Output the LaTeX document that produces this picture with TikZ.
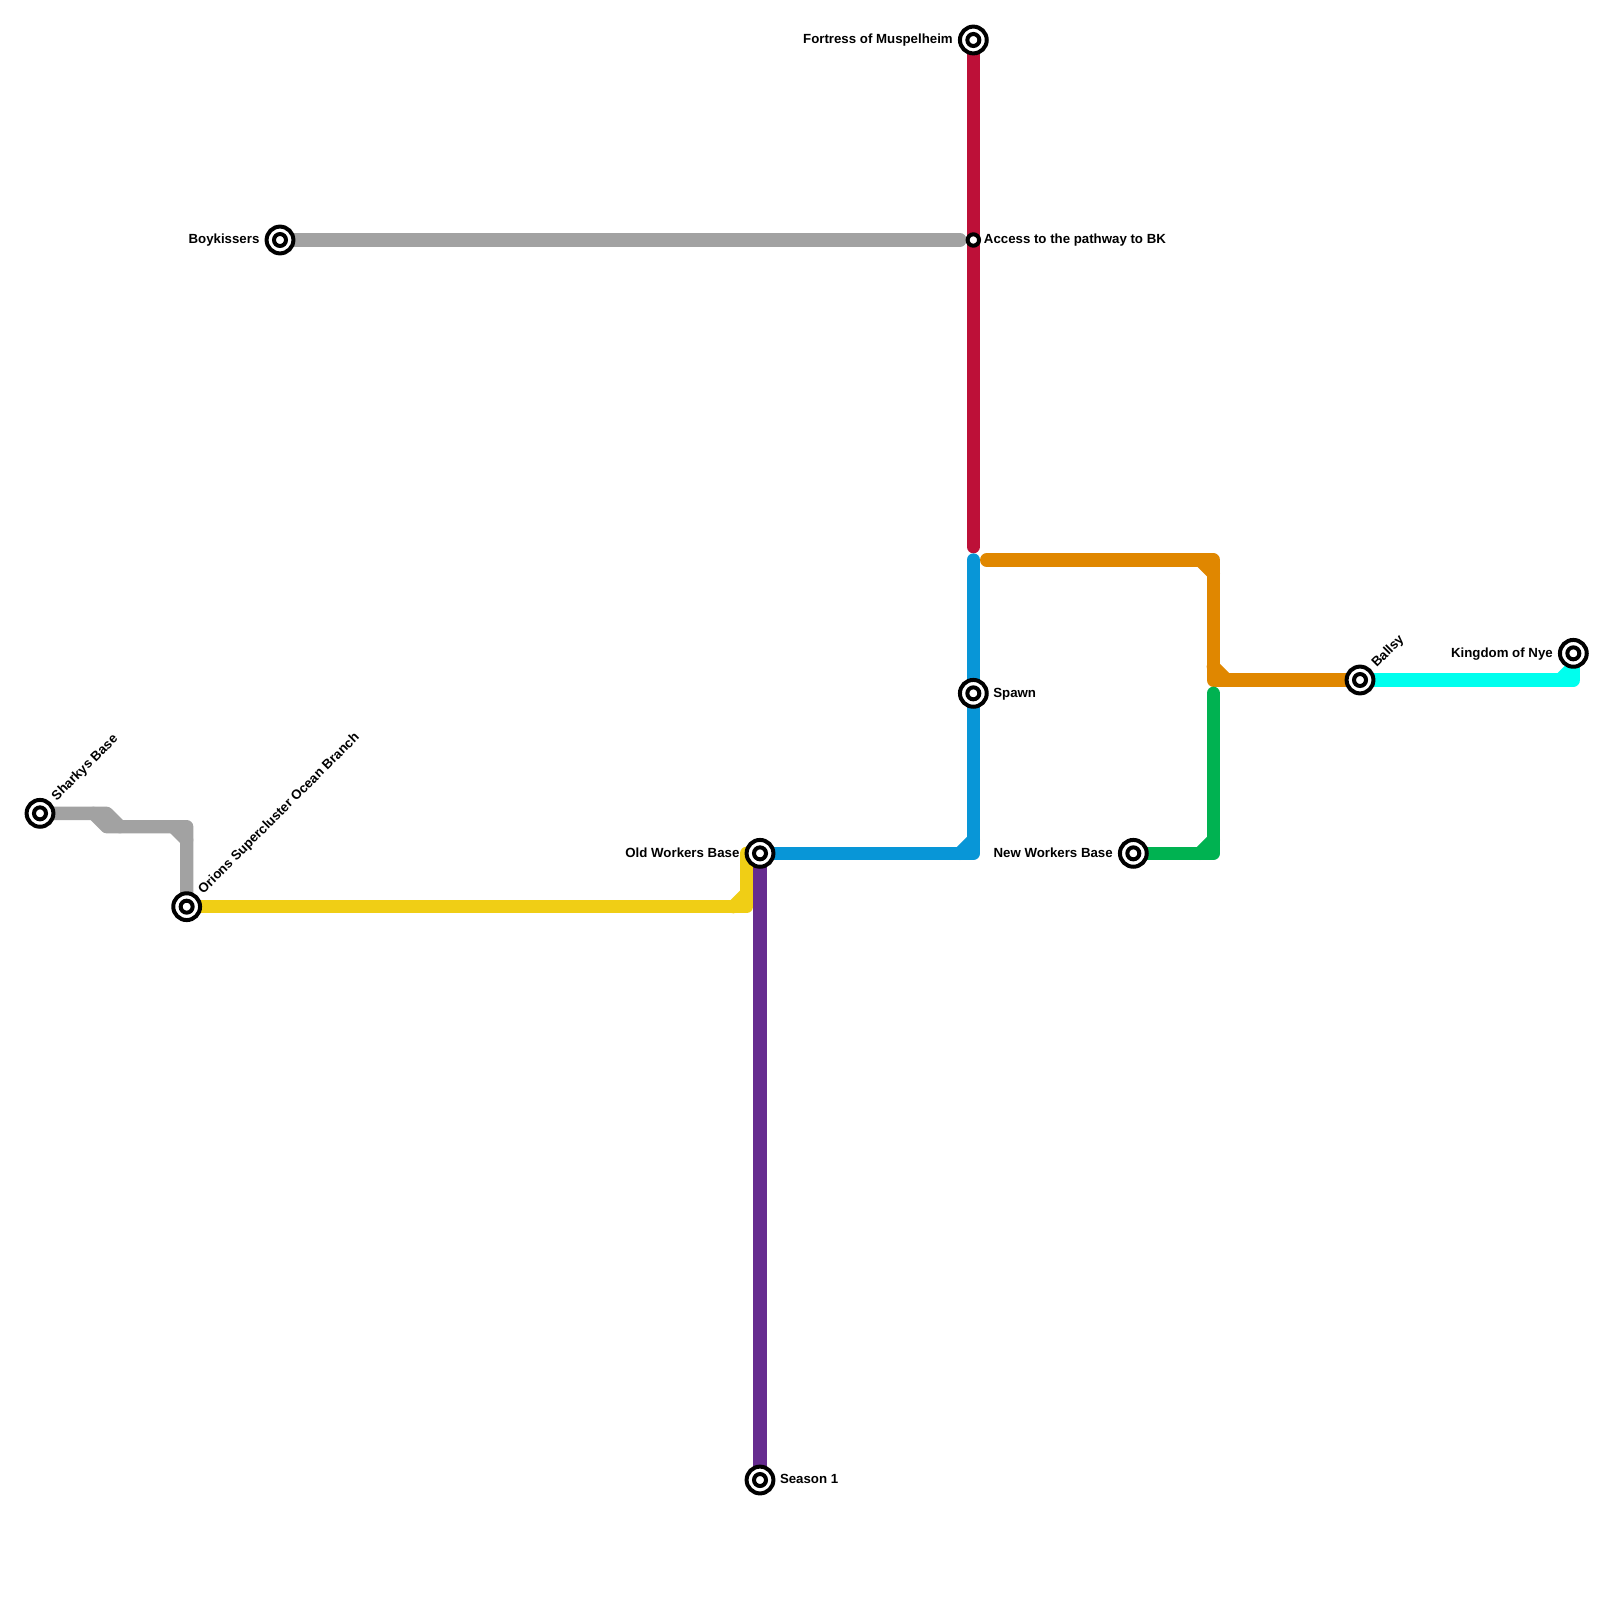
\documentclass[tikz,border=0pt]{standalone}
\usepackage{fontspec}
\setmainfont{Liberation Sans}
\pgfdeclarelayer{lines}
\pgfsetlayers{lines,main}
\definecolor{cgrey}{HTML}{A2A2A2}
\definecolor{cred}{HTML}{BD1038}
\definecolor{cblue}{HTML}{0896D7}
\definecolor{corange}{HTML}{E08700}
\definecolor{cgreen}{HTML}{00B251}
\definecolor{ccyan}{HTML}{00FFEE}
\definecolor{cyellow}{HTML}{F0CE15}
\definecolor{cpurple}{HTML}{662C90}
\tikzset{
  x=6.66667pt,y=-6.66667pt,
  metro/.style={line width=6.66667pt,line cap=round,line join=round},
  station/.style={circle,draw=black,fill=white,line width=2pt,minimum size=13.4pt,inner sep=0pt,outer sep=0pt,
    path picture={\draw[black,line width=2pt] (path picture bounding box.center) circle (3pt);}},
  minor/.style={circle,draw=black,fill=white,line width=2pt,minimum size=5.7pt,inner sep=0pt,outer sep=0pt},
  lab/.style={font=\fontsize{6.63pt}{7pt}\selectfont\bfseries,inner sep=0pt,outer sep=0pt},
  labr/.style={lab,anchor=base west},
  labl/.style={lab,anchor=base east},
  labd/.style={lab,anchor=base west,rotate=45},
}
\begin{document}
\begin{tikzpicture}
\useasboundingbox (0,0) rectangle (120,120);
\node[station] (shark) at (3,61) {};
\node[station] (orion) at (14,68) {};
\node[station] (boyk) at (21,18) {};
\node[station] (fort) at (73,3) {};
\node[minor] (access) at (73,18) {};
\node[station] (spawn) at (73,52) {};
\node[station] (old) at (57,64) {};
\node[station] (season) at (57,111) {};
\node[station] (new) at (85,64) {};
\node[station] (ballsy) at (102,51) {};
\node[station] (nye) at (118,49) {};
\coordinate (greyend) at (72,18);
\coordinate (redend) at (73,41);
\coordinate (bluetop) at (73,42);
\coordinate (orangeend) at (74,42);
\coordinate (greentop) at (91,52);
\node[labd] (lshark) at ([xshift=8.4pt,yshift=6.1pt]shark.center) {Sharkys Base};
\node[labd] (lorion) at ([xshift=8.4pt,yshift=6.1pt]orion.center) {Orions Supercluster Ocean Branch};
\node[labd] (lballsy) at ([xshift=8.4pt,yshift=6.1pt]ballsy.center) {Ballsy};
\node[labl] (lboyk) at ([xshift=-10.3pt,yshift=-1.9pt]boyk.center) {Boykissers};
\node[labl] (lfort) at ([xshift=-10.3pt,yshift=-1.9pt]fort.center) {Fortress of Muspelheim};
\node[labl] (lold) at ([xshift=-10.3pt,yshift=-1.9pt]old.center) {Old Workers Base};
\node[labl] (lnew) at ([xshift=-10.3pt,yshift=-1.9pt]new.center) {New Workers Base};
\node[labl] (lnye) at ([xshift=-10.3pt,yshift=-1.9pt]nye.center) {Kingdom of Nye};
\node[labr] (laccess) at ([xshift=5.3pt,yshift=-1.9pt]access.center) {Access to the pathway to BK};
\node[labr] (lspawn) at ([xshift=10pt,yshift=-1.9pt]spawn.center) {Spawn};
\node[labr] (lseason) at ([xshift=10pt,yshift=-1.9pt]season.center) {Season 1};
\begin{pgfonlayer}{lines}
\draw[metro,cgrey] (boyk.center) -- (greyend);
\draw[metro,cgrey] (shark.center) -- (8,61) -- (9,62) -- (14,62) -- (orion.center);
\draw[metro,cgrey] (7,61) -- (8,62) -- (9,62);
\draw[metro,cgrey] (13,62) -- (14,63);
\draw[metro,cred] (fort.center) -- (redend);
\draw[metro,cyellow] (orion.center) -- (56,68) -- (56,64);
\draw[metro,cyellow] (55,68) -- (56,67);
\draw[metro,cpurple] (old.center) -- (season.center);
\draw[metro,cblue] (bluetop) -- (spawn.center) -- (73,64) -- (old.center);
\draw[metro,cblue] (72,64) -- (73,63);
\draw[metro,corange] (orangeend) -- (91,42) -- (91,51) -- (ballsy.center);
\draw[metro,corange] (90,42) -- (91,43);
\draw[metro,corange] (91,50) -- (92,51);
\draw[metro,cgreen] (greentop) -- (91,64) -- (new.center);
\draw[metro,cgreen] (90,64) -- (91,63);
\draw[metro,ccyan] (ballsy.center) -- (118,51) -- (nye.center);
\draw[metro,ccyan] (117,51) -- (118,50);
\end{pgfonlayer}
\end{tikzpicture}
\end{document}
